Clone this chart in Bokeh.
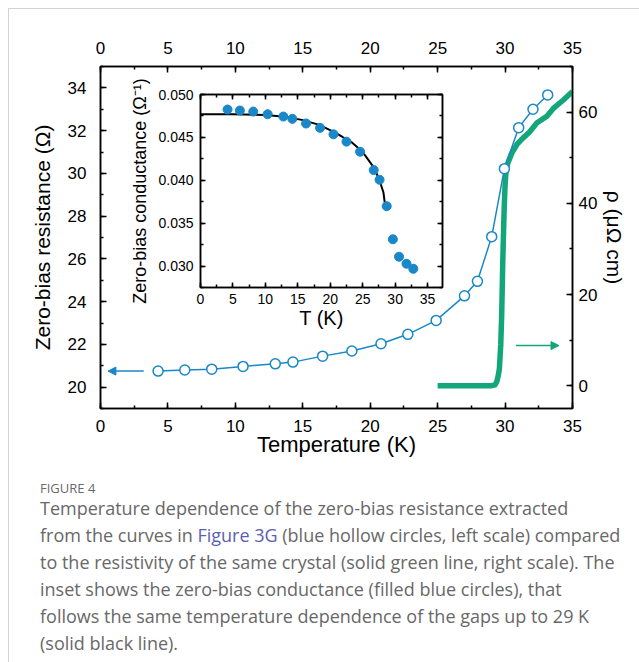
from bokeh.plotting import figure
from bokeh.models import (Range1d, LinearAxis, SingleIntervalTicker, Arrow, NormalHead,
                          Div, CustomJSTickFormatter, PrintfTickFormatter)
from bokeh.layouts import column
from bokeh.embed import file_html
from bokeh.resources import INLINE

# ---------------- data ----------------
# main panel: zero-bias resistance (left scale)
T_res = [4.27, 6.25, 8.25, 10.57, 12.96, 14.27, 16.47, 18.64, 20.8, 22.79, 24.89,
         26.99, 27.95, 29.01, 29.95, 31.01, 32.07, 33.16]
R_res = [20.75, 20.80, 20.84, 20.97, 21.09, 21.17, 21.45, 21.69, 22.03, 22.47, 23.12,
         24.27, 24.95, 27.04, 30.22, 32.14, 33.00, 33.67]

# main panel: resistivity (right scale)
T_rho = [25.0, 26.0, 27.0, 28.0, 29.0, 29.26, 29.4, 29.5, 29.58, 29.68, 29.75, 29.83,
         29.93, 30.0, 30.07, 30.2, 30.5, 30.9, 31.36, 31.8, 32.35, 33.1, 33.58, 34.3, 35.0]
rho = [0.0, 0.0, 0.0, 0.0, 0.0, 0.2, 1.0, 2.3, 3.8, 9.0, 15.6, 27.3,
       38.5, 44.0, 47.0, 48.8, 51.0, 53.0, 54.4, 55.6, 57.6, 59.1, 60.8, 62.6, 64.5]

# inset: zero-bias conductance
T_cond = [4.17, 6.07, 8.13, 10.35, 12.77, 14.16, 16.27, 18.43, 20.5, 22.5, 24.6,
          26.7, 27.6, 28.7, 29.65, 30.6, 31.75, 32.8]
G_cond = [0.04825, 0.04813, 0.04801, 0.04770, 0.04743, 0.04716, 0.04662, 0.04611,
          0.04536, 0.04450, 0.04333, 0.04119, 0.04006, 0.03698, 0.03312, 0.03109,
          0.03027, 0.02968]

# inset: gap temperature dependence (solid black line)
T_fit = [0.0, 5.0, 10.0, 13.0, 15.6, 18.2, 20.7, 22.0, 23.3, 24.4, 25.4, 26.7, 27.2, 27.7, 28.2, 28.46]
G_fit = [0.0477, 0.0477, 0.04762, 0.0474, 0.04704, 0.04649, 0.04559, 0.0450, 0.04442,
         0.0437, 0.04287, 0.0415, 0.0407, 0.03974, 0.03857, 0.03702]

# arrows indicating which scale each curve uses
arrow_left = dict(x_start=3.2, x_end=0.55, y=20.75)   # left scale (Ω)
arrow_right = dict(x_start=30.8, x_end=34.0, y=8.8)   # right scale (μΩ cm)

x_ticks_interval = 5
left_ticks_interval = 2
right_ticks_interval = 20

caption_title = "FIGURE 4"
caption_lines = [
    "Temperature dependence of the zero-bias resistance extracted",
    "from the curves in <span style=\"color:#5b5fb0\">Figure 3G</span> (blue hollow circles, left scale) compared",
    "to the resistivity of the same crystal (solid green line, right scale). The",
    "inset shows the zero-bias conductance (filled blue circles), that",
    "follows the same temperature dependence of the gaps up to 29 K",
    "(solid black line).",
]

# ---------------- styling ----------------
FONT = "Liberation Sans"
BLUE = "#1a87c8"
GREEN = "#12a67a"


def style_axis(ax, label_size, title_size, tick_in=6, minor_in=3, width=1.5):
    ax.axis_line_width = width
    ax.axis_line_color = "black"
    ax.major_tick_in = tick_in
    ax.major_tick_out = 0
    ax.minor_tick_in = minor_in
    ax.minor_tick_out = 0
    ax.major_tick_line_width = width
    ax.minor_tick_line_width = width
    ax.major_label_text_font = FONT
    ax.major_label_text_font_size = label_size
    ax.major_label_text_color = "black"
    ax.axis_label_text_font = FONT
    ax.axis_label_text_font_size = title_size
    ax.axis_label_text_font_style = "normal"
    ax.axis_label_text_color = "black"


# ---------------- main figure ----------------
p = figure(width=622, height=460, x_range=Range1d(0, 35), y_range=Range1d(19, 35),
           output_backend="svg", toolbar_location=None,
           min_border_left=91, min_border_right=59, min_border_top=57, min_border_bottom=61)
p.extra_y_ranges = {"rho": Range1d(-5, 70)}
p.xgrid.visible = False
p.ygrid.visible = False
p.outline_line_color = "black"
p.outline_line_width = 1.5
p.border_fill_color = "white"

xb = p.xaxis[0]
xb.ticker = SingleIntervalTicker(interval=x_ticks_interval, num_minor_ticks=2)
xb.axis_label = "Temperature (K)"
style_axis(xb, "17px", "22px")
xb.major_label_standoff = 11
xb.axis_label_standoff = -3

yl = p.yaxis[0]
yl.ticker = SingleIntervalTicker(interval=left_ticks_interval, num_minor_ticks=2)
yl.axis_label = "Zero-bias resistance (Ω)"
style_axis(yl, "17px", "21px")
yl.major_label_standoff = 14
yl.axis_label_standoff = 11

xt = LinearAxis(ticker=SingleIntervalTicker(interval=x_ticks_interval, num_minor_ticks=2))
style_axis(xt, "17px", "21px")
xt.major_label_standoff = 13
p.add_layout(xt, "above")

yr = LinearAxis(y_range_name="rho",
                ticker=SingleIntervalTicker(interval=right_ticks_interval, num_minor_ticks=2),
                axis_label="ρ (μΩ cm)")
style_axis(yr, "17px", "21px")
yr.major_label_standoff = 6
yr.axis_label_standoff = 3
p.add_layout(yr, "right")

p.line(T_rho, rho, y_range_name="rho", line_width=5.5, line_color=GREEN, line_join="round")
p.line(T_res, R_res, line_width=1.5, line_color=BLUE)
p.scatter(T_res, R_res, size=10, fill_color="white", line_color=BLUE, line_width=1.5)

p.add_layout(Arrow(end=NormalHead(size=8, fill_color=BLUE, line_color=BLUE),
                   x_start=arrow_left["x_start"], y_start=arrow_left["y"],
                   x_end=arrow_left["x_end"], y_end=arrow_left["y"],
                   line_color=BLUE, line_width=1.5))
p.add_layout(Arrow(end=NormalHead(size=8, fill_color=GREEN, line_color=GREEN),
                   x_start=arrow_right["x_start"], y_start=arrow_right["y"],
                   x_end=arrow_right["x_end"], y_end=arrow_right["y"],
                   line_color=GREEN, line_width=1.5, y_range_name="rho"))

# ---------------- inset ----------------
inset = figure(frame_width=242, frame_height=193,
               x_range=Range1d(0, 37.3), y_range=Range1d(0.0275, 0.050),
               output_backend="svg", toolbar_location=None,
               min_border_left=90, min_border_right=8, min_border_top=24, min_border_bottom=48)
inset.xgrid.visible = False
inset.ygrid.visible = False
inset.outline_line_color = "black"
inset.outline_line_width = 1.5
inset.border_fill_alpha = 0
inset.background_fill_color = "white"

ix = inset.xaxis[0]
ix.ticker = SingleIntervalTicker(interval=5, num_minor_ticks=2)
ix.axis_label = "T (K)"
style_axis(ix, "14px", "20px", tick_in=5, minor_in=3)
ix.major_label_standoff = 6
ix.axis_label_standoff = 0

iy = inset.yaxis[0]
iy.ticker = SingleIntervalTicker(interval=0.005, num_minor_ticks=2)
iy.formatter = PrintfTickFormatter(format="%.3f")
iy.axis_label = "Zero-bias conductance (Ω⁻¹)"
style_axis(iy, "14px", "18px", tick_in=5, minor_in=3)
iy.major_label_standoff = 7
iy.axis_label_standoff = 5

blank = CustomJSTickFormatter(code="return ''")
it = LinearAxis(ticker=SingleIntervalTicker(interval=5, num_minor_ticks=2), formatter=blank)
style_axis(it, "1px", "1px", tick_in=5, minor_in=3)
it.major_label_standoff = 0
inset.add_layout(it, "above")
ir = LinearAxis(ticker=SingleIntervalTicker(interval=0.005, num_minor_ticks=2), formatter=blank)
style_axis(ir, "1px", "1px", tick_in=5, minor_in=3)
ir.major_label_standoff = 0
inset.add_layout(ir, "right")

inset.line(T_fit, G_fit, line_width=2, line_color="black")
inset.scatter(T_cond, G_cond, size=9, fill_color=BLUE, line_color=BLUE)

inset.styles = {"position": "absolute", "left": "100px", "top": "61px", "z-index": "5"}

# ---------------- caption ----------------
caption_html = (
    "<div style=\"font-family:'Open Sans',sans-serif;color:#686868;padding-left:26px;"
    "white-space:nowrap;\">"
    "<div style=\"font-size:13px;line-height:14px;margin-top:7px;color:#6a6a6a;\">"
    + caption_title + "</div>"
    "<div style=\"font-size:18px;line-height:27px;\">"
    + "<br>".join(caption_lines) + "</div></div>"
)
caption = Div(text=caption_html, width=622, height=185)

layout = column(p, caption, inset, margin=(8, 0, 0, 8),
                styles={"position": "relative", "border-left": "1px solid #d3d3d3",
                        "border-top": "1px solid #d3d3d3"})

open("out.html", "w").write(file_html(layout, INLINE))
